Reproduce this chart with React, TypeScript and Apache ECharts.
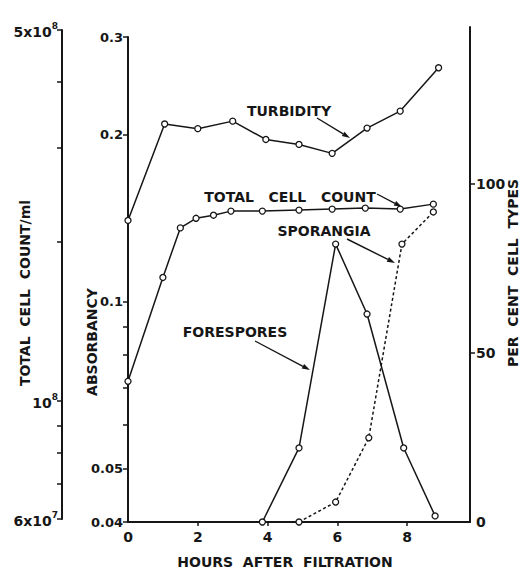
import React, { useEffect, useRef } from "react";
import * as echarts from "echarts";

// ---- data ----
const hourTicks = [0, 2, 4, 6, 8];

const turbidityHours = [0, 1.05, 2, 3, 3.95, 4.9, 5.85, 6.85, 7.8, 8.9];
const turbidity = [0.14, 0.209, 0.205, 0.2115, 0.196, 0.192, 0.185, 0.2055, 0.2205, 0.264];

const cellCountHours = [0, 1, 1.5, 1.95, 2.45, 2.95, 3.85, 4.9, 5.85, 6.8, 7.8, 8.75];
const cellCount = [1.09e8, 1.71e8, 2.12e8, 2.21e8, 2.24e8, 2.28e8, 2.28e8, 2.29e8, 2.3e8, 2.31e8, 2.3e8, 2.35e8];

const forespHours = [3.85, 4.9, 5.95, 6.85, 7.9, 8.8];
const forespores = [0, 21.9, 82.2, 61.5, 21.9, 1.8];

const sporHours = [4.9, 5.95, 6.9, 7.85, 8.75];
const sporangia = [0, 5.9, 24.9, 82.2, 91.7];

const absorbTicks = [0.04, 0.05, 0.06, 0.07, 0.08, 0.09, 0.1, 0.2, 0.3];
const absorbLabels = [0.04, 0.05, 0.1, 0.2, 0.3];
const absorbLabelText = ["0.04", "0.05", "0.1", "0.2", "0.3"];

const cellTicks = [6e7, 7e7, 8e7, 9e7, 1e8, 2e8, 3e8, 4e8, 5e8];
const cellLabels = [6e7, 1e8, 5e8];
const cellLabelText = ["{b|6x10}{s|7}", "{b|10}{s|8}", "{b|5x10}{s|8}"];

const percentTicks = [50, 100];
const percentLabels = [0, 50, 100];

const FONT = "DejaVu Sans";
const INK = "#161616";

function pairs(xs: number[], ys: number[]) {
  return xs.map((x, i) => [x, ys[i]]);
}

function matchLabel(v: number, vals: number[], texts: string[]) {
  for (let i = 0; i < vals.length; i++) {
    if (Math.abs(Math.log10(vals[i]) - v) < 1e-6) return texts[i];
  }
  return "";
}

function arrow(x1: number, y1: number, x2: number, y2: number) {
  const a = Math.atan2(y2 - y1, x2 - x1);
  const L = 8;
  const W = 2.6;
  const bx = x2 - L * Math.cos(a);
  const by = y2 - L * Math.sin(a);
  return [
    {
      type: "line",
      shape: { x1, y1, x2: bx, y2: by },
      style: { stroke: INK, lineWidth: 1.4 },
      silent: true,
    },
    {
      type: "polygon",
      shape: {
        points: [
          [x2, y2],
          [bx + W * Math.sin(a), by - W * Math.cos(a)],
          [bx - W * Math.sin(a), by + W * Math.cos(a)],
        ],
      },
      style: { fill: INK },
      silent: true,
    },
  ];
}

function label(text: string, x: number, y: number, rot = 0, size = 14) {
  return {
    type: "text",
    x,
    y,
    rotation: rot,
    style: {
      text,
      fill: INK,
      font: `bold ${size}px "${FONT}"`,
      textAlign: "center",
      textVerticalAlign: "middle",
    },
    silent: true,
  };
}

const lx = Math.log10;

export default function App() {
  const ref = useRef<HTMLDivElement>(null);

  useEffect(() => {
    if (!ref.current) return;
    const chart = echarts.init(ref.current, undefined, { renderer: "svg" });

    const axisLine = { show: true, onZero: false, lineStyle: { color: INK, width: 2 } };
    const tickStyle = { color: INK, width: 1.5 };
    const tickLabel = { color: INK, fontFamily: FONT, fontWeight: "bold" as const, fontSize: 13 };

    const xBase = {
      type: "value" as const,
      min: 0,
      max: 9.8,
    };

    const lineSeries = (name: string, data: number[][], xi: number, yi: number, dashed = false) => ({
      name,
      type: "line",
      xAxisIndex: xi,
      yAxisIndex: yi,
      data,
      symbol: "circle",
      symbolSize: 6,
      showSymbol: true,
      clip: false,
      lineStyle: { color: INK, width: 1.5, type: dashed ? [3, 2.5] : "solid" },
      itemStyle: { color: "#fff", borderColor: INK, borderWidth: 1.3 },
      z: 3,
    });

    chart.setOption({
      animation: false,
      backgroundColor: "#fff",
      grid: [
        { left: 128, right: 52, top: 37, bottom: 48 },
        { left: 128, right: 52, top: 30, bottom: 51 },
        { left: 128, right: 52, top: 27, bottom: 48 },
      ],
      xAxis: [
        {
          ...xBase,
          gridIndex: 0,
          axisLine,
          axisTick: { show: true, inside: false, length: 4, lineStyle: tickStyle, customValues: [2, 4, 6, 8] },
          axisLabel: { ...tickLabel, fontSize: 14, margin: 8, customValues: hourTicks, formatter: (v: number) => String(v) },
          splitLine: { show: false },
        },
        { ...xBase, gridIndex: 1, show: false },
        { ...xBase, gridIndex: 2, show: false },
      ],
      yAxis: [
        // 0: absorbancy display axis (log10 space)
        {
          type: "value",
          gridIndex: 0,
          position: "left",
          min: lx(0.04),
          max: lx(0.3),
          axisLine,
          axisTick: { show: true, length: 5, lineStyle: tickStyle, customValues: absorbTicks.map(lx) },
          axisLabel: {
            ...tickLabel,
            margin: 5,
            customValues: absorbLabels.map(lx),
            formatter: (v: number) => matchLabel(v, absorbLabels, absorbLabelText),
          },
          splitLine: { show: false },
        },
        // 1: absorbancy data axis
        { type: "log", logBase: 10, gridIndex: 0, min: 0.04, max: 0.3, show: false },
        // 2: total cell count display axis
        {
          type: "value",
          gridIndex: 1,
          position: "left",
          offset: 66,
          min: lx(6e7),
          max: lx(5e8),
          axisLine,
          axisTick: { show: true, length: 5, lineStyle: tickStyle, customValues: cellTicks.map(lx) },
          axisLabel: {
            color: INK,
            margin: 4,
            customValues: cellLabels.map(lx),
            formatter: (v: number) => matchLabel(v, cellLabels, cellLabelText),
            rich: {
              b: { fontFamily: FONT, fontWeight: "bold", fontSize: 14, color: INK, lineHeight: 18, verticalAlign: "bottom" },
              s: { fontFamily: FONT, fontWeight: "bold", fontSize: 9, color: INK, lineHeight: 18, verticalAlign: "top" },
            },
          },
          splitLine: { show: false },
        },
        // 3: total cell count data axis
        { type: "log", logBase: 10, gridIndex: 1, min: 6e7, max: 5e8, show: false },
        // 4: per cent cell types
        {
          type: "value",
          gridIndex: 2,
          position: "right",
          min: 0,
          max: 146.4,
          axisLine,
          axisTick: { show: true, length: 5, lineStyle: tickStyle, customValues: percentTicks },
          axisLabel: { ...tickLabel, fontSize: 14, margin: 6, customValues: percentLabels, formatter: (v: number) => String(v) },
          splitLine: { show: false },
        },
      ],
      series: [
        lineSeries("Turbidity", pairs(turbidityHours, turbidity), 0, 1),
        lineSeries("Total cell count", pairs(cellCountHours, cellCount), 1, 3),
        lineSeries("Forespores", pairs(forespHours, forespores), 2, 4),
        lineSeries("Sporangia", pairs(sporHours, sporangia), 2, 4, true),
      ],
      graphic: [
        label("TOTAL  CELL  COUNT/ml", 25, 293, Math.PI / 2),
        label("ABSORBANCY", 92, 342, Math.PI / 2),
        label("PER  CENT  CELL  TYPES", 513, 273, Math.PI / 2),
        label("HOURS  AFTER  FILTRATION", 285, 562),
        label("TURBIDITY", 289, 111),
        ...arrow(317, 118, 350, 138),
        label("TOTAL   CELL   COUNT", 290, 197),
        ...arrow(377, 194, 402, 207),
        label("SPORANGIA", 324, 231),
        ...arrow(347, 239, 395, 263),
        label("FORESPORES", 235, 332),
        ...arrow(255, 341, 310, 370),
      ],
    });

    return () => chart.dispose();
  }, []);

  return (
    <div
      ref={ref}
      style={{ position: "fixed", left: 0, top: 0, width: 522, height: 570, background: "#fff" }}
    />
  );
}
